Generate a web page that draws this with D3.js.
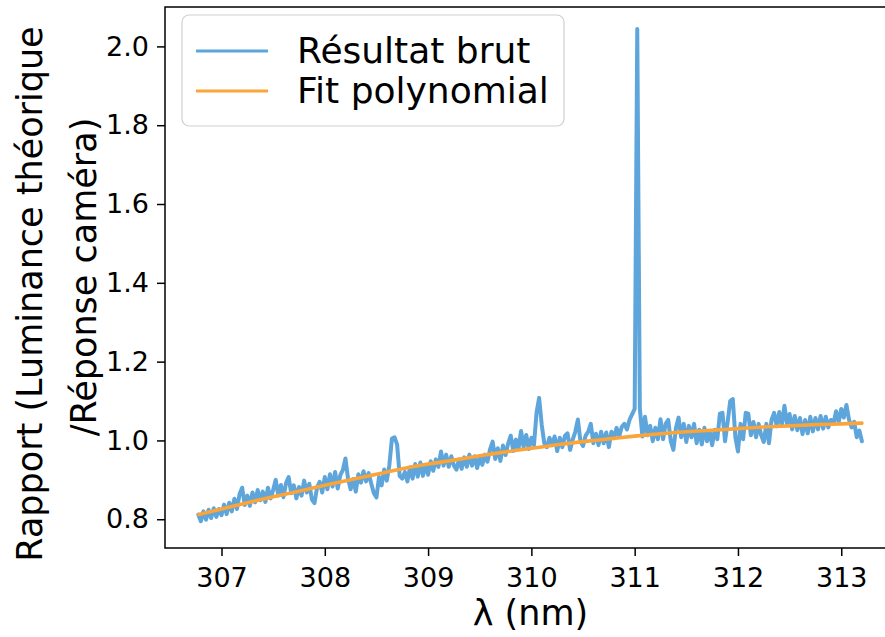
<!DOCTYPE html>
<html><head><meta charset="utf-8">
<script src="https://cdn.jsdelivr.net/npm/d3@7"></script>
<style>
body{margin:0;background:#fff}
svg{display:block}
text{font-family:"DejaVu Sans",sans-serif;fill:#000}
</style>
</head><body>
<svg id="c" width="885" height="637"></svg>
<script>
// ---- data ----
const xTicks = [307, 308, 309, 310, 311, 312, 313];
const yTicks = [0.8, 1.0, 1.2, 1.4, 1.6, 1.8, 2.0];
const seriesNames = ["Résultat brut", "Fit polynomial"];
const seriesColors = ["#5da5da", "#faa43a"];
const xLabel = "λ (nm)";
const yLabelLines = ["Rapport (Luminance théorique", "/Réponse caméra)"];

// raw measurement: wavelengths start at 306.775 nm, sampled every 0.025 nm
const rawStart = 306.775, rawStep = 0.025;
const rawValues = [
  0.812, 0.795, 0.820, 0.799, 0.824, 0.803, 0.828, 0.806, 0.826,
  0.810, 0.837, 0.813, 0.842, 0.820, 0.852, 0.826, 0.864, 0.880, 0.836,
  0.860, 0.834, 0.868, 0.843, 0.874, 0.848, 0.870, 0.844, 0.880, 0.853,
  0.874, 0.900, 0.860, 0.887, 0.856, 0.892, 0.907, 0.866, 0.886, 0.853,
  0.882, 0.860, 0.898, 0.868, 0.890, 0.850, 0.841, 0.880, 0.895, 0.868,
  0.907, 0.876, 0.914, 0.883, 0.920, 0.878, 0.912, 0.925, 0.954, 0.903,
  0.876, 0.902, 0.870, 0.914, 0.893, 0.922, 0.896, 0.917, 0.890, 0.866,
  0.855, 0.907, 0.886, 0.926, 0.898, 0.937, 1.005, 1.008, 0.990, 0.910,
  0.903, 0.920, 0.896, 0.932, 0.903, 0.940, 0.908, 0.944, 0.910, 0.937,
  0.913, 0.947, 0.923, 0.952, 0.933, 0.972, 0.936, 0.964, 0.933, 0.960,
  0.936, 0.926, 0.952, 0.928, 0.957, 0.933, 0.964, 0.936, 0.960, 0.930,
  0.957, 0.938, 0.964, 0.946, 0.977, 0.997, 0.953, 0.980, 0.948, 0.987,
  0.963, 0.992, 1.012, 0.973, 1.002, 0.978, 1.024, 0.983, 1.014, 0.978,
  1.007, 0.988, 1.070, 1.108, 1.040, 0.993, 0.983, 1.007, 0.988, 1.010,
  0.973, 1.007, 0.983, 1.012, 1.018, 0.976, 1.002, 1.022, 1.053, 0.998,
  0.986, 1.012, 1.022, 1.042, 0.993, 1.017, 0.988, 1.022, 0.993, 1.020,
  0.983, 1.022, 1.006, 1.032, 1.010, 1.034, 1.042, 1.028, 1.052, 1.066,
  1.080, 2.044, 1.080, 1.010, 1.060, 1.013, 1.037, 0.998, 1.032, 1.003,
  1.054, 1.003, 1.042, 1.052, 0.998, 0.976, 1.032, 1.058, 1.008, 1.042,
  0.996, 1.037, 1.008, 1.042, 0.993, 1.027, 0.990, 1.032, 0.998, 1.024,
  0.988, 1.027, 1.003, 1.068, 1.070, 0.998, 1.047, 1.100, 1.105, 1.008,
  0.972, 1.042, 1.003, 1.070, 1.068, 1.013, 1.047, 1.008, 1.042, 1.013,
  0.996, 1.042, 0.993, 1.052, 1.070, 1.036, 1.072, 1.038, 1.088, 1.043,
  1.067, 1.028, 1.062, 1.026, 1.057, 1.016, 1.052, 1.018, 1.060, 1.023,
  1.057, 1.028, 1.062, 1.030, 1.060, 1.033, 1.052, 1.043, 1.074, 1.046,
  1.080, 1.058, 1.090, 1.053, 1.033, 1.047, 1.008, 1.025, 0.998
];

// polynomial fit
const fitLambda = [306.78, 307.0, 307.25, 307.5, 307.75, 308.0, 308.25, 308.5, 308.75,
  309.0, 309.25, 309.5, 309.75, 310.0, 310.25, 310.5, 310.75, 311.0, 311.25, 311.5,
  311.75, 312.0, 312.25, 312.5, 312.75, 313.0, 313.2];
const fitValues = [0.812, 0.826, 0.842, 0.857, 0.871, 0.886, 0.900, 0.914, 0.928,
  0.940, 0.950, 0.961, 0.971, 0.980, 0.989, 0.997, 1.004, 1.011, 1.017, 1.022,
  1.026, 1.030, 1.034, 1.037, 1.040, 1.042, 1.044];

// ---- chart ----
const svg = d3.select("#c");
svg.append("rect").attr("width", 885).attr("height", 637).attr("fill", "#fff");

const L = 165, R = 896, T = 7, B = 548;
const x = d3.scaleLinear().domain([306.453, 313.53]).range([L, R]);
const y = d3.scaleLinear().domain([0.727, 2.1]).range([B, T]);

const raw = rawValues.map((v, i) => ({lam: rawStart + i * rawStep, v}));
const fit = fitLambda.map((l, i) => ({lam: l, v: fitValues[i]}));

svg.append("defs").append("clipPath").attr("id", "clip")
  .append("rect").attr("x", L).attr("y", T).attr("width", R - L).attr("height", B - T);

const line = d3.line().x(d => x(d.lam)).y(d => y(d.v));
const g = svg.append("g").attr("clip-path", "url(#clip)");
g.append("path").datum(raw).attr("d", line).attr("fill", "none")
  .attr("stroke", seriesColors[0]).attr("stroke-width", 4)
  .attr("stroke-linejoin", "round").attr("stroke-linecap", "round");
g.append("path").datum(fit).attr("d", line.curve(d3.curveMonotoneX)).attr("fill", "none")
  .attr("stroke", seriesColors[1]).attr("stroke-width", 3.6)
  .attr("stroke-linecap", "round");

// axes
const xAxis = d3.axisBottom(x).tickValues(xTicks).tickFormat(d3.format("d"))
  .tickSize(8).tickPadding(12).tickSizeOuter(0);
const yAxis = d3.axisLeft(y).tickValues(yTicks).tickFormat(d3.format(".1f"))
  .tickSize(8).tickPadding(8).tickSizeOuter(0);
const gx = svg.append("g").attr("transform", `translate(0,${B})`).call(xAxis);
const gy = svg.append("g").attr("transform", `translate(${L},0)`).call(yAxis);
[gx, gy].forEach(a => {
  a.select(".domain").remove();
  a.selectAll(".tick line").attr("stroke", "#000").attr("stroke-width", 1.5);
  a.selectAll(".tick text").attr("font-size", 27).attr("font-family", "DejaVu Sans").attr("fill", "#000");
});
gx.selectAll(".tick text").attr("dy", "0.71em");

// frame
svg.append("rect").attr("x", L).attr("y", T).attr("width", R - L).attr("height", B - T)
  .attr("fill", "none").attr("stroke", "#000").attr("stroke-width", 1.5);

// axis labels
svg.append("text").attr("x", (L + R) / 2).attr("y", 625).attr("text-anchor", "middle")
  .attr("font-size", 35).text(xLabel);
[[42, 294], [96, 277]].forEach(([bx, cy], i) => {
  svg.append("text").attr("transform", `translate(${bx},${cy}) rotate(-90)`)
    .attr("text-anchor", "middle").attr("font-size", 35).text(yLabelLines[i]);
});

// legend
const lg = svg.append("g");
lg.append("rect").attr("x", 182).attr("y", 15).attr("width", 382).attr("height", 111)
  .attr("rx", 7).attr("fill", "#fff").attr("fill-opacity", 0.8)
  .attr("stroke", "#d0d0d0").attr("stroke-width", 1.2);
seriesNames.forEach((n, i) => {
  const ly = 51 + i * 40;
  lg.append("line").attr("x1", 196).attr("x2", 268).attr("y1", ly).attr("y2", ly)
    .attr("stroke", seriesColors[i]).attr("stroke-width", 3.2);
  lg.append("text").attr("x", 297).attr("y", ly + 12).attr("font-size", 36).text(n);
});
</script>
</body></html>
